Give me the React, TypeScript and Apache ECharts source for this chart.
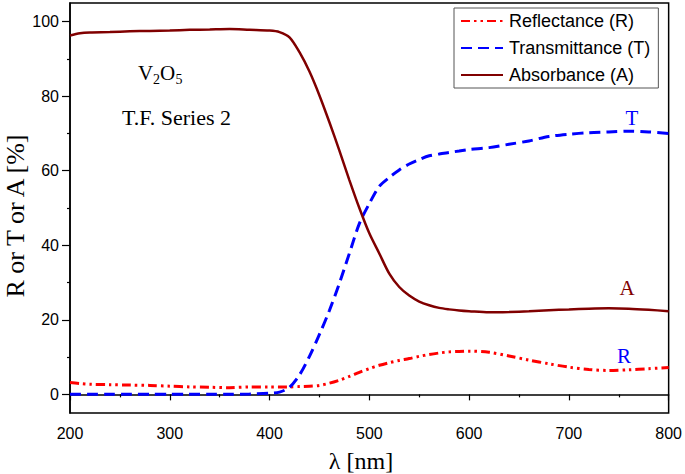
import React, { useEffect, useRef } from "react";
import * as echarts from "echarts";

const wavelengths = [200, 210, 220, 240, 260, 280, 300, 320, 340, 360, 380, 400, 410, 420, 430, 440, 450, 460, 470, 480, 490, 500, 510, 520, 530, 540, 550, 560, 570, 580, 590, 600, 620, 640, 660, 680, 700, 720, 740, 760, 780, 800];

const reflectance = [3.2, 2.9, 2.7, 2.6, 2.5, 2.4, 2.2, 2.0, 1.9, 1.8, 2.0, 2.0, 2.0, 2.0, 2.1, 2.2, 2.4, 3.0, 3.8, 4.8, 5.9, 6.9, 7.8, 8.5, 9.1, 9.6, 10.2, 10.7, 11.1, 11.4, 11.5, 11.6, 11.3, 10.3, 9.2, 8.2, 7.3, 6.7, 6.4, 6.6, 6.9, 7.2];

const transmittance = [0, 0, 0, 0, 0, 0, 0, 0, 0, 0, 0.1, 0.3, 0.6, 1.9, 5.2, 10.2, 16.1, 22.5, 29.8, 37.8, 45.8, 51.2, 55.8, 58.2, 60.2, 61.8, 63.0, 64.0, 64.5, 64.9, 65.3, 65.7, 66.2, 67.1, 68.0, 69.2, 69.8, 70.2, 70.4, 70.6, 70.4, 70.0];

const absorbance = [96.3, 96.9, 97.1, 97.2, 97.4, 97.5, 97.6, 97.8, 97.9, 98.0, 97.8, 97.6, 97.2, 95.8, 91.8, 86.6, 80.2, 73.0, 65.4, 57.5, 50.0, 43.2, 37.8, 32.4, 28.8, 26.5, 24.9, 23.9, 23.2, 22.8, 22.5, 22.3, 22.0, 22.1, 22.3, 22.6, 22.8, 23.0, 23.1, 23.0, 22.7, 22.3];

const yLabelValues = [0, 20, 40, 60, 80, 100];
const yMinorValues = [10, 30, 50, 70, 90];

const SERIF = "'Liberation Serif', 'Times New Roman', serif";
const SANS = "'Liberation Sans', Arial, sans-serif";

function pairs(vals: number[]) {
  return wavelengths.map((w, i) => [w, vals[i]]);
}

export default function App() {
  const ref = useRef<HTMLDivElement>(null);
  useEffect(() => {
    if (!ref.current) return;
    const chart = echarts.init(ref.current, null, { renderer: "svg" });
    chart.setOption({
      animation: false,
      backgroundColor: "#fff",
      grid: {
        left: 70,
        right: 15,
        top: 3,
        bottom: 61,
        show: true,
        borderColor: "#000",
        borderWidth: 1.5,
      },
      legend: {
        orient: "vertical",
        left: 454,
        top: 8,
        padding: [4, 8, 4, 6],
        itemWidth: 42,
        itemHeight: 14,
        itemGap: 9,
        borderColor: "#555",
        borderWidth: 1,
        backgroundColor: "#fff",
        itemStyle: { opacity: 0 },
        textStyle: { fontFamily: SANS, fontSize: 18, color: "#000", padding: [0, 0, 0, 1] },
        data: ["Reflectance (R)", "Transmittance (T)", "Absorbance (A)"],
      },
      xAxis: {
        type: "value",
        min: 200,
        max: 800,
        interval: 100,
        axisLine: { show: true, lineStyle: { color: "#000", width: 1.5 } },
        axisTick: { show: true, length: 6, lineStyle: { color: "#000", width: 1.2 } },
        minorTick: { show: true, splitNumber: 2, length: 3, lineStyle: { color: "#000", width: 1.2 } },
        splitLine: { show: false },
        axisLabel: { fontFamily: SANS, fontSize: 16, color: "#000", margin: 12 },
      },
      yAxis: [
        {
          type: "value",
          min: -5,
          max: 105,
          axisLine: { show: true, lineStyle: { color: "#000", width: 1.5 } },
          axisTick: { show: true, length: 8, customValues: yLabelValues, lineStyle: { color: "#000", width: 1.2 } },
          splitLine: { show: false },
          axisLabel: { fontFamily: SANS, fontSize: 16, color: "#000", margin: 11, customValues: yLabelValues },
        },
        {
          type: "value",
          min: -5,
          max: 105,
          position: "left",
          axisLine: { show: false },
          axisTick: { show: true, length: 3, customValues: yMinorValues, lineStyle: { color: "#000", width: 1.2 } },
          splitLine: { show: false },
          axisLabel: { show: false },
        },
      ],
      series: [
        {
          name: "Reflectance (R)",
          type: "line",
          data: pairs(reflectance),
          smooth: 0.3,
          symbol: "none",
          lineStyle: { color: "#ff0000", width: 3, type: [9, 4, 2.5, 4, 2.5, 4] },
          itemStyle: { color: "#ff0000" },
        },
        {
          name: "Transmittance (T)",
          type: "line",
          data: pairs(transmittance),
          smooth: 0.3,
          symbol: "none",
          lineStyle: { color: "#0000ff", width: 3, type: [11, 6] },
          itemStyle: { color: "#0000ff" },
        },
        {
          name: "Absorbance (A)",
          type: "line",
          data: pairs(absorbance),
          smooth: 0.3,
          symbol: "none",
          lineStyle: { color: "#800000", width: 2.5 },
          itemStyle: { color: "#800000" },
        },
      ],
      graphic: [
        { type: "text", x: 15, y: 216, rotation: Math.PI / 2, style: { text: "R or T or A [%]", font: `26px ${SERIF}`, fill: "#000", textAlign: "center", textVerticalAlign: "middle" } },
        { type: "text", x: 361, y: 461, style: { text: "λ [nm]", font: `24px ${SERIF}`, fill: "#000", textAlign: "center", textVerticalAlign: "middle" } },
        { type: "text", x: 138, y: 73, style: { text: "V", font: `21px ${SERIF}`, fill: "#000", textAlign: "left", textVerticalAlign: "middle" } },
        { type: "text", x: 153, y: 79, style: { text: "2", font: `14px ${SERIF}`, fill: "#000", textAlign: "left", textVerticalAlign: "middle" } },
        { type: "text", x: 160, y: 73, style: { text: "O", font: `21px ${SERIF}`, fill: "#000", textAlign: "left", textVerticalAlign: "middle" } },
        { type: "text", x: 175.5, y: 79, style: { text: "5", font: `14px ${SERIF}`, fill: "#000", textAlign: "left", textVerticalAlign: "middle" } },
        { type: "text", x: 122, y: 117, style: { text: "T.F. Series 2", font: `22px ${SERIF}`, fill: "#000", textAlign: "left", textVerticalAlign: "middle" } },
        { type: "text", x: 632, y: 118, style: { text: "T", font: `21px ${SERIF}`, fill: "#0000ff", textAlign: "center", textVerticalAlign: "middle" } },
        { type: "text", x: 627, y: 288, style: { text: "A", font: `21px ${SERIF}`, fill: "#800000", textAlign: "center", textVerticalAlign: "middle" } },
        { type: "text", x: 624, y: 356, style: { text: "R", font: `21px ${SERIF}`, fill: "#0000ff", textAlign: "center", textVerticalAlign: "middle" } },
      ],
    });
    return () => chart.dispose();
  }, []);
  return <div ref={ref} style={{ width: 685, height: 474, position: "absolute", left: 0, top: 0 }} />;
}
